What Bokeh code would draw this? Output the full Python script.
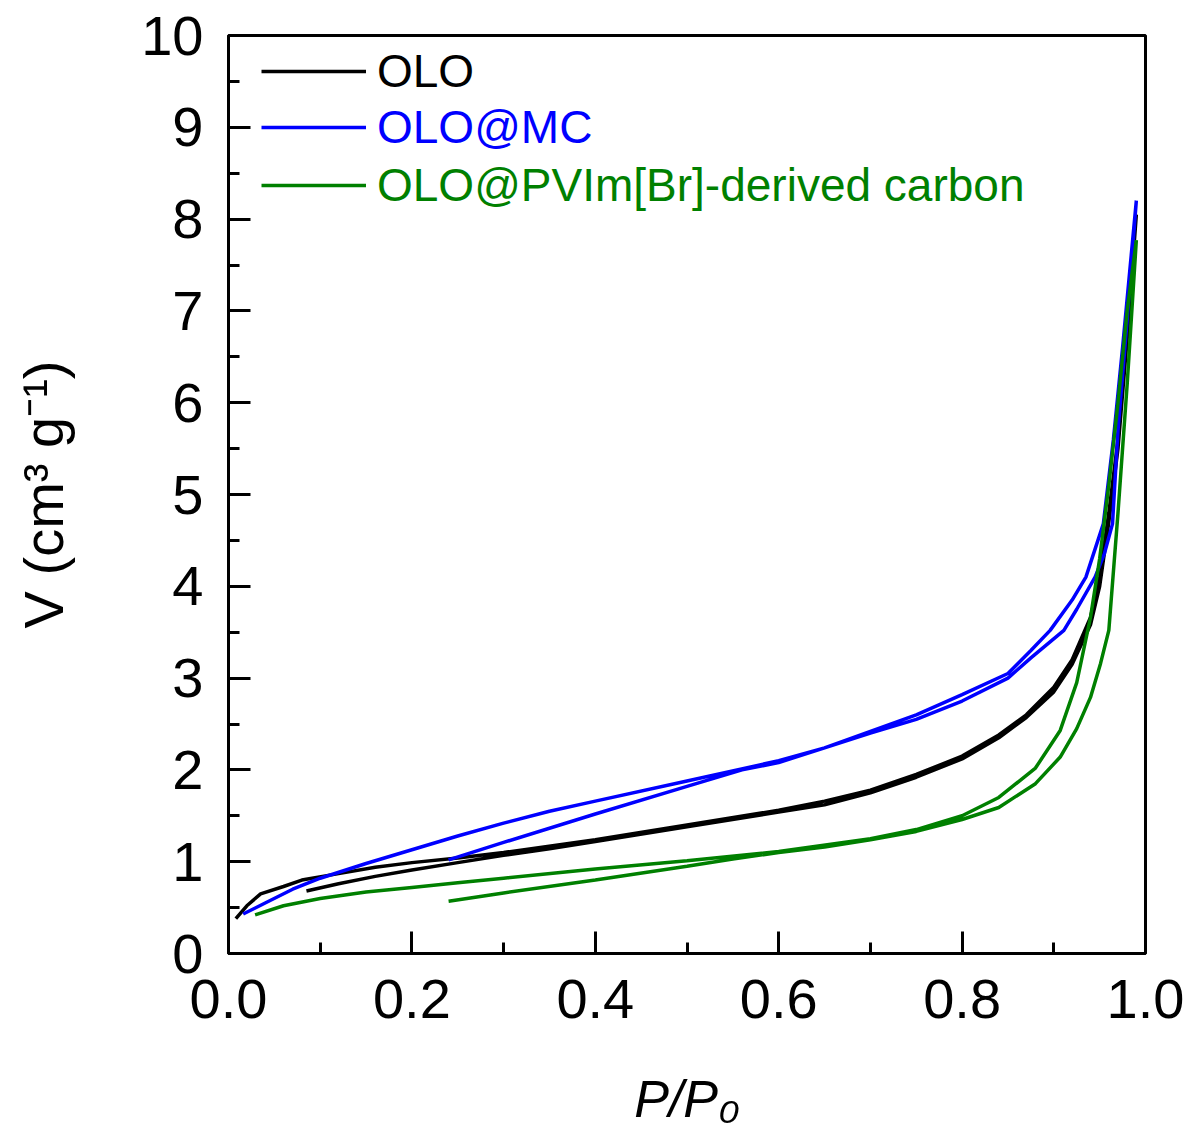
from bokeh.plotting import figure
from bokeh.models import Range1d, FixedTicker, Legend, LegendItem
from bokeh.embed import file_html
from bokeh.resources import INLINE

# ---- data ----
olo_ads_x = [0.008, 0.02, 0.035, 0.06, 0.08, 0.12, 0.16, 0.20, 0.25, 0.30, 0.40, 0.50, 0.60, 0.65, 0.70, 0.75,
             0.80, 0.84, 0.87, 0.90, 0.92, 0.94, 0.95, 0.96, 0.97, 0.98, 0.99]
olo_ads_y = [0.38, 0.52, 0.65, 0.73, 0.80, 0.87, 0.94, 0.99, 1.04, 1.10, 1.24, 1.40, 1.56, 1.66, 1.78, 1.95,
             2.15, 2.38, 2.60, 2.90, 3.20, 3.66, 4.10, 4.80, 5.60, 6.80, 8.05]
olo_des_x = [0.99, 0.98, 0.97, 0.96, 0.95, 0.94, 0.92, 0.90, 0.87, 0.84, 0.80, 0.75, 0.70, 0.65, 0.60, 0.50,
             0.40, 0.35, 0.30, 0.25, 0.20, 0.16, 0.12, 0.085]
olo_des_y = [8.05, 6.70, 5.50, 4.70, 4.00, 3.58, 3.15, 2.85, 2.57, 2.35, 2.12, 1.92, 1.75, 1.62, 1.54, 1.38,
             1.22, 1.14, 1.07, 0.99, 0.91, 0.84, 0.76, 0.68]

mc_ads_x = [0.016, 0.04, 0.07, 0.10, 0.15, 0.20, 0.25, 0.30, 0.35, 0.40, 0.50, 0.60, 0.65, 0.70, 0.75, 0.80,
            0.85, 0.875, 0.896, 0.92, 0.935, 0.954, 0.965, 0.975, 0.99]
mc_ads_y = [0.43, 0.55, 0.70, 0.82, 0.98, 1.13, 1.28, 1.42, 1.55, 1.66, 1.88, 2.10, 2.24, 2.42, 2.60, 2.82,
            3.05, 3.30, 3.52, 3.85, 4.10, 4.68, 5.60, 6.60, 8.20]
mc_des_x = [0.99, 0.98, 0.97, 0.964, 0.955, 0.945, 0.925, 0.911, 0.875, 0.85, 0.80, 0.75, 0.70, 0.65, 0.60,
            0.56, 0.50, 0.40, 0.30, 0.24]
mc_des_y = [8.20, 6.90, 5.70, 4.68, 4.35, 4.10, 3.75, 3.52, 3.22, 3.00, 2.75, 2.55, 2.40, 2.24, 2.08,
            2.00, 1.82, 1.52, 1.21, 1.02]

pvim_ads_x = [0.029, 0.06, 0.10, 0.15, 0.20, 0.25, 0.30, 0.40, 0.50, 0.60, 0.70, 0.75, 0.80, 0.84, 0.88,
              0.907, 0.925, 0.94, 0.95, 0.96, 0.97, 0.98, 0.99]
pvim_ads_y = [0.42, 0.52, 0.60, 0.67, 0.72, 0.77, 0.82, 0.92, 1.01, 1.11, 1.25, 1.35, 1.50, 1.70, 2.02,
              2.43, 2.95, 3.66, 4.30, 5.10, 6.00, 7.00, 7.77]
pvim_des_x = [0.99, 0.98, 0.97, 0.96, 0.951, 0.94, 0.925, 0.907, 0.88, 0.84, 0.80, 0.75, 0.70, 0.65, 0.60,
              0.55, 0.50, 0.40, 0.30, 0.24]
pvim_des_y = [7.77, 6.20, 4.80, 3.52, 3.16, 2.79, 2.45, 2.14, 1.85, 1.59, 1.46, 1.33, 1.24, 1.16, 1.10,
              1.03, 0.95, 0.80, 0.66, 0.57]

series_names = ["OLO", "OLO@MC", "OLO@PVIm[Br]-derived carbon"]
series_colors = ["#000000", "#0000FF", "#008000"]

x_ticks = [0.0, 0.2, 0.4, 0.6, 0.8, 1.0]
x_tick_labels = ["0.0", "0.2", "0.4", "0.6", "0.8", "1.0"]
x_minor = [0.1, 0.3, 0.5, 0.7, 0.9]
y_ticks = [0, 1, 2, 3, 4, 5, 6, 7, 8, 9, 10]
y_tick_labels = ["0", "1", "2", "3", "4", "5", "6", "7", "8", "9", "10"]
y_minor = [0.5, 1.5, 2.5, 3.5, 4.5, 5.5, 6.5, 7.5, 8.5, 9.5]

FONT = "Liberation Sans"

p = figure(width=1190, height=1140, output_backend="svg", toolbar_location=None,
           x_range=Range1d(0, 1.0), y_range=Range1d(0, 10),
           min_border_left=228, min_border_top=35, min_border_right=45, min_border_bottom=187)
p.grid.visible = False
p.outline_line_color = "black"
p.outline_line_width = 3
p.background_fill_color = "white"
p.border_fill_color = "white"

p.xaxis.ticker = FixedTicker(ticks=x_ticks, minor_ticks=x_minor)
p.yaxis.ticker = FixedTicker(ticks=y_ticks, minor_ticks=y_minor)
p.xaxis.major_label_overrides = {t: l for t, l in zip(x_ticks, x_tick_labels)}
p.yaxis.major_label_overrides = {t: l for t, l in zip(y_ticks, y_tick_labels)}

for ax in (p.xaxis[0], p.yaxis[0]):
    ax.axis_line_width = 3
    ax.major_tick_line_width = 3
    ax.minor_tick_line_width = 3
    ax.major_tick_in = 22
    ax.major_tick_out = 0
    ax.minor_tick_in = 11
    ax.minor_tick_out = 0
    ax.major_label_text_font = FONT
    ax.major_label_text_font_size = "56px"
    ax.major_label_text_color = "black"
    ax.axis_label_text_color = "black"

p.xaxis.major_label_standoff = 26
p.yaxis.major_label_standoff = 25

p.xaxis.axis_label = "P/P\u2080"
p.xaxis.axis_label_text_font = FONT
p.xaxis.axis_label_text_font_style = "italic"
p.xaxis.axis_label_text_font_size = "52px"
p.xaxis.axis_label_standoff = 49

p.yaxis.axis_label = "V (cm\u00b3 g\u207b\u00b9)"
p.yaxis.axis_label_text_font = FONT
p.yaxis.axis_label_text_font_style = "normal"
p.yaxis.axis_label_text_font_size = "56px"
p.yaxis.axis_label_standoff = 63

all_data = [
    (olo_ads_x, olo_ads_y, olo_des_x, olo_des_y),
    (mc_ads_x, mc_ads_y, mc_des_x, mc_des_y),
    (pvim_ads_x, pvim_ads_y, pvim_des_x, pvim_des_y),
]

renderers = []
for (ax_, ay_, dx_, dy_), col in zip(all_data, series_colors):
    r = p.line(ax_ + dx_, ay_ + dy_, line_color=col, line_width=3.5)
    renderers.append(r)

legend_bottoms = [855, 799, 741]
for r, name, col, yb in zip(renderers, series_names, series_colors, legend_bottoms):
    lg = Legend(items=[LegendItem(label=name, renderers=[r])], location=(33, yb),
                label_text_color=col, label_text_font=FONT, label_text_font_size="46px",
                glyph_width=105, glyph_height=52, label_height=52, label_standoff=11,
                padding=0, margin=0, spacing=0, border_line_color=None,
                background_fill_alpha=0, inactive_fill_alpha=0)
    p.add_layout(lg, "center")

open("out.html", "w").write(file_html(p, INLINE))
